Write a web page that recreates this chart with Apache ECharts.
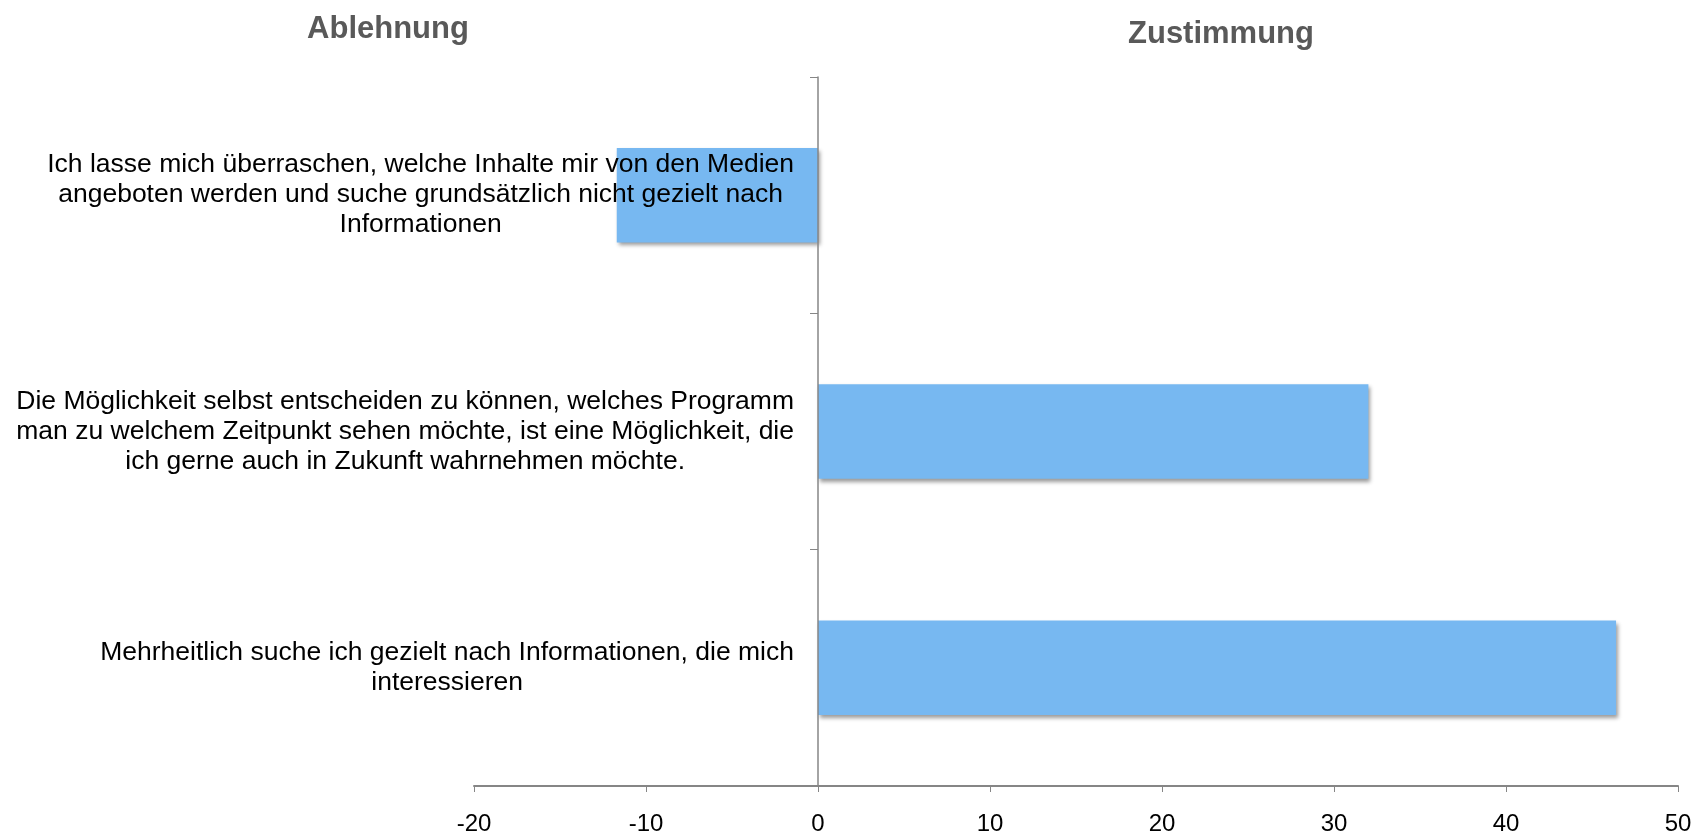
<!DOCTYPE html>
<html>
<head>
<meta charset="utf-8">
<script src="https://cdn.jsdelivr.net/npm/echarts@6/dist/echarts.min.js"></script>
<style>
html,body{margin:0;padding:0;background:#fff;}
#chart{width:1694px;height:832px;}
</style>
</head>
<body>
<div id="chart"></div>
<script>
// Aussagen von oben nach unten
var categories = [
	"Ich lasse mich überraschen, welche Inhalte mir von den Medien\nangeboten werden und suche grundsätzlich nicht gezielt nach\nInformationen",
	"Die Möglichkeit selbst entscheiden zu können, welches Programm\nman zu welchem Zeitpunkt sehen möchte, ist eine Möglichkeit, die\nich gerne auch in Zukunft wahrnehmen möchte.",
	"Mehrheitlich suche ich gezielt nach Informationen, die mich\ninteressieren"
];
var values = [-11.7, 32.0, 46.4];
var headings = ["Ablehnung", "Zustimmung"];

var chart = echarts.init(document.getElementById('chart'));

chart.setOption({
	animation: false,
	title: [{
		text: headings[0],
		left: 388,
		top: 14,
		padding: 0,
		textAlign: 'center',
		textStyle: {fontFamily: 'Liberation Sans', fontSize: 31, fontWeight: 'bold', color: '#595959'}
	}, {
		text: headings[1],
		left: 1221,
		top: 19,
		padding: 0,
		textAlign: 'center',
		textStyle: {fontFamily: 'Liberation Sans', fontSize: 31, fontWeight: 'bold', color: '#595959'}
	}],
	grid: {left: 474, right: 16, top: 77, bottom: 46, containLabel: false, outerBoundsMode: 'none'},
	xAxis: {
		type: 'value',
		min: -20,
		max: 50,
		interval: 10,
		splitLine: {show: false},
		axisLine: {show: true, lineStyle: {color: '#868686', width: 2}},
		axisTick: {show: true, length: 6, lineStyle: {color: '#868686', width: 1}},
		axisLabel: {margin: 26, color: '#000', fontFamily: 'Liberation Sans', fontSize: 24}
	},
	yAxis: {
		type: 'category',
		inverse: true,
		data: categories,
		z: 5,
		axisLine: {show: true, onZero: true, lineStyle: {color: '#868686', width: 1.5}},
		axisTick: {show: true, length: 8, lineStyle: {color: '#868686', width: 1}},
		axisLabel: {
			interval: 0,
			margin: -320, // Beschriftung sitzt links neben der Null-Linie
			formatter: function(v) {
				return '{c|' + v + '}';
			},
			rich: {
				c: {align: 'center', fontFamily: 'Liberation Sans', fontSize: 26.5, lineHeight: 30, color: '#000'}
			}
		}
	},
	series: [{
		type: 'bar',
		data: values,
		barCategoryGap: '60%',
		itemStyle: {
			color: '#77B8F1',
			shadowBlur: 4,
			shadowColor: 'rgba(0,0,0,0.4)',
			shadowOffsetX: 2,
			shadowOffsetY: 3
		}
	}]
});
</script>
</body>
</html>
